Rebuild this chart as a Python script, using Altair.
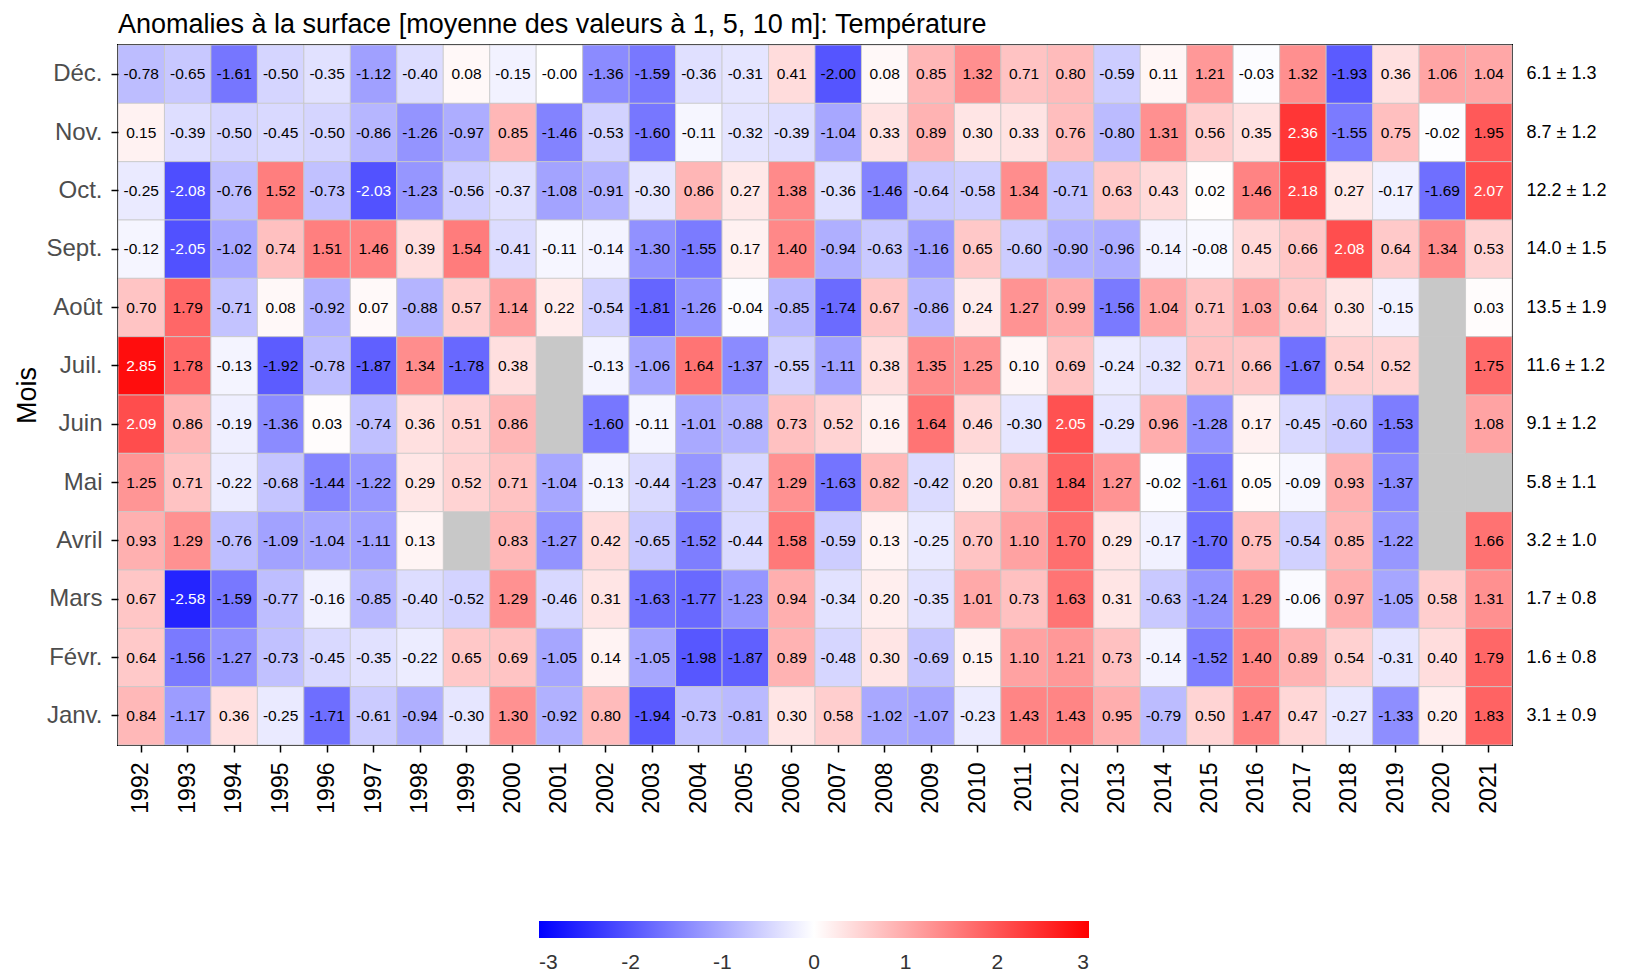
import altair as alt
import pandas as pd

years = [str(y) for y in range(1992, 2022)]
months = ["Déc.", "Nov.", "Oct.", "Sept.", "Août", "Juil.", "Juin", "Mai",
          "Avril", "Mars", "Févr.", "Janv."]
NA = None

dec = [-0.78, -0.65, -1.61, -0.50, -0.35, -1.12, -0.40, 0.08, -0.15, -0.0, -1.36, -1.59, -0.36, -0.31, 0.41,
       -2.00, 0.08, 0.85, 1.32, 0.71, 0.80, -0.59, 0.11, 1.21, -0.03, 1.32, -1.93, 0.36, 1.06, 1.04]
nov = [0.15, -0.39, -0.50, -0.45, -0.50, -0.86, -1.26, -0.97, 0.85, -1.46, -0.53, -1.60, -0.11, -0.32, -0.39,
       -1.04, 0.33, 0.89, 0.30, 0.33, 0.76, -0.80, 1.31, 0.56, 0.35, 2.36, -1.55, 0.75, -0.02, 1.95]
oct_ = [-0.25, -2.08, -0.76, 1.52, -0.73, -2.03, -1.23, -0.56, -0.37, -1.08, -0.91, -0.30, 0.86, 0.27, 1.38,
        -0.36, -1.46, -0.64, -0.58, 1.34, -0.71, 0.63, 0.43, 0.02, 1.46, 2.18, 0.27, -0.17, -1.69, 2.07]
sep = [-0.12, -2.05, -1.02, 0.74, 1.51, 1.46, 0.39, 1.54, -0.41, -0.11, -0.14, -1.30, -1.55, 0.17, 1.40,
       -0.94, -0.63, -1.16, 0.65, -0.60, -0.90, -0.96, -0.14, -0.08, 0.45, 0.66, 2.08, 0.64, 1.34, 0.53]
aug = [0.70, 1.79, -0.71, 0.08, -0.92, 0.07, -0.88, 0.57, 1.14, 0.22, -0.54, -1.81, -1.26, -0.04, -0.85,
       -1.74, 0.67, -0.86, 0.24, 1.27, 0.99, -1.56, 1.04, 0.71, 1.03, 0.64, 0.30, -0.15, NA, 0.03]
jul = [2.85, 1.78, -0.13, -1.92, -0.78, -1.87, 1.34, -1.78, 0.38, NA, -0.13, -1.06, 1.64, -1.37, -0.55,
       -1.11, 0.38, 1.35, 1.25, 0.10, 0.69, -0.24, -0.32, 0.71, 0.66, -1.67, 0.54, 0.52, NA, 1.75]
jun = [2.09, 0.86, -0.19, -1.36, 0.03, -0.74, 0.36, 0.51, 0.86, NA, -1.60, -0.11, -1.01, -0.88, 0.73,
       0.52, 0.16, 1.64, 0.46, -0.30, 2.05, -0.29, 0.96, -1.28, 0.17, -0.45, -0.60, -1.53, NA, 1.08]
may = [1.25, 0.71, -0.22, -0.68, -1.44, -1.22, 0.29, 0.52, 0.71, -1.04, -0.13, -0.44, -1.23, -0.47, 1.29,
       -1.63, 0.82, -0.42, 0.20, 0.81, 1.84, 1.27, -0.02, -1.61, 0.05, -0.09, 0.93, -1.37, NA, NA]
apr = [0.93, 1.29, -0.76, -1.09, -1.04, -1.11, 0.13, NA, 0.83, -1.27, 0.42, -0.65, -1.52, -0.44, 1.58,
       -0.59, 0.13, -0.25, 0.70, 1.10, 1.70, 0.29, -0.17, -1.70, 0.75, -0.54, 0.85, -1.22, NA, 1.66]
mar = [0.67, -2.58, -1.59, -0.77, -0.16, -0.85, -0.40, -0.52, 1.29, -0.46, 0.31, -1.63, -1.77, -1.23, 0.94,
       -0.34, 0.20, -0.35, 1.01, 0.73, 1.63, 0.31, -0.63, -1.24, 1.29, -0.06, 0.97, -1.05, 0.58, 1.31]
feb = [0.64, -1.56, -1.27, -0.73, -0.45, -0.35, -0.22, 0.65, 0.69, -1.05, 0.14, -1.05, -1.98, -1.87, 0.89,
       -0.48, 0.30, -0.69, 0.15, 1.10, 1.21, 0.73, -0.14, -1.52, 1.40, 0.89, 0.54, -0.31, 0.40, 1.79]
jan = [0.84, -1.17, 0.36, -0.25, -1.71, -0.61, -0.94, -0.30, 1.30, -0.92, 0.80, -1.94, -0.73, -0.81, 0.30,
       0.58, -1.02, -1.07, -0.23, 1.43, 1.43, 0.95, -0.79, 0.50, 1.47, 0.47, -0.27, -1.33, 0.20, 1.83]

rows_values = [dec, nov, oct_, sep, aug, jul, jun, may, apr, mar, feb, jan]

means = [6.1, 8.7, 12.2, 14.0, 13.5, 11.6, 9.1, 5.8, 3.2, 1.7, 1.6, 3.1]
sds = [1.3, 1.2, 1.2, 1.5, 1.9, 1.2, 1.2, 1.1, 1.0, 0.8, 0.8, 0.9]
stat_labels = [f"{m:.1f} ± {s:.1f}" for m, s in zip(means, sds)]

records = []
for mi, (m, vals) in enumerate(zip(months, rows_values)):
    for y, v in zip(years, vals):
        records.append({
            "month": m,
            "year": y,
            "value": v,
            "label": "" if v is None else f"{v:.2f}",
            "stat": stat_labels[mi],
        })
df = pd.DataFrame(records)

FONT = "Liberation Sans"

x_enc = alt.X("year:N", scale=alt.Scale(domain=years),
              axis=alt.Axis(title=None, labelAngle=270, labelFontSize=23, labelColor="black",
                            tickSize=7, tickColor="black", tickWidth=1.5, domain=False,
                            labelPadding=10, grid=False))
y_enc = alt.Y("month:N", scale=alt.Scale(domain=months),
              axis=alt.Axis(title="Mois", titleFontSize=27, titleColor="black", titleFontWeight="normal",
                            labelFontSize=24, labelColor="#4D4D4D", tickSize=7, tickColor="black",
                            tickWidth=1.5, domain=False, labelPadding=9, titlePadding=4, grid=False))

base = alt.Chart(df)

na_rect = base.transform_filter("!isValid(datum.value)").mark_rect(
    fill="#C8C8C8", stroke="#C8C8C8", strokeWidth=0.8
).encode(x=x_enc, y=y_enc)

col_rect = base.transform_filter("isValid(datum.value)").mark_rect(
    stroke="#C8C8C8", strokeWidth=0.8
).encode(
    x=x_enc, y=y_enc,
    color=alt.Color("value:Q",
                    scale=alt.Scale(domain=[-3, 0, 3], range=["#0000FF", "#FFFFFF", "#FF0000"],
                                    interpolate="rgb"),
                    legend=alt.Legend(title=None, orient="none", direction="horizontal",
                                      legendX=421, legendY=876, gradientLength=550,
                                      gradientThickness=17, labelFontSize=21, labelColor="#333333",
                                      labelAlign="center", labelOffset=14,
                                      values=[-3, -2, -1, 0, 1, 2, 3],
                                      labelExpr="'' + datum.value",
                                      gradientStrokeWidth=0))
)

text = base.transform_filter("isValid(datum.value)").mark_text(fontSize=15.5, font=FONT).encode(
    x=x_enc, y=y_enc,
    text="label:N",
    color=alt.condition("abs(datum.value) > 2", alt.value("white"), alt.value("black")),
)

heat = alt.layer(na_rect, col_rect, text)

stats = base.mark_rect(opacity=0).encode(
    x=x_enc,
    y=alt.Y("stat:N", scale=alt.Scale(domain=stat_labels),
            axis=alt.Axis(orient="right", title=None, ticks=False, domain=False, labelFontSize=18,
                          labelColor="black", labelPadding=14, grid=False)),
)

chart = alt.layer(heat, stats).resolve_scale(y="independent").properties(
    width=1394, height=700,
    title=alt.TitleParams("Anomalies à la surface [moyenne des valeurs à 1, 5, 10 m]: Température",
                          anchor="start", frame="group", fontSize=27, font=FONT,
                          fontWeight="normal", color="black", offset=6),
    padding={"left": 5, "top": 2, "right": 5, "bottom": 0},
).configure(font=FONT).configure_view(stroke="black", strokeWidth=2).configure_axis(
    labelFont=FONT, titleFont=FONT
).configure_legend(labelFont=FONT)

chart.save("out.html", embed_options={"renderer": "svg", "actions": False})
